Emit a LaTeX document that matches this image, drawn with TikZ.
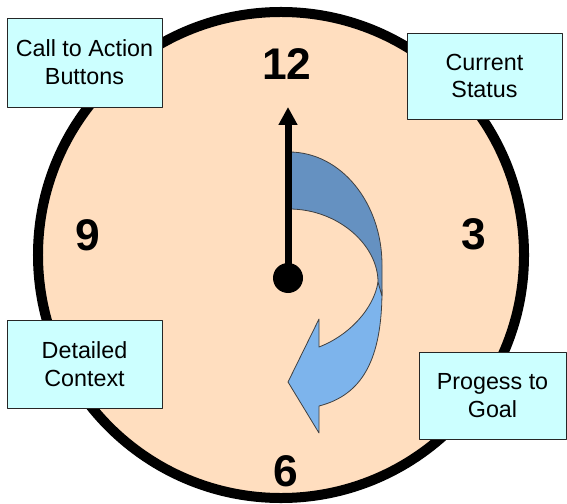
\documentclass[tikz,border=0pt]{standalone}
\usepackage{fontspec}
\setmainfont{Liberation Sans}
\usetikzlibrary{arrows.meta}
\definecolor{peach}{HTML}{FFDEBF}
\definecolor{boxcyan}{HTML}{CCFFFF}
\definecolor{bandback}{HTML}{6591C1}
\definecolor{bandfront}{HTML}{7DB4EC}

\begin{document}
\begin{tikzpicture}[x=1bp, y=-1bp, line join=round,
	infobox/.style={draw=black!85, line width=0.8bp, fill=boxcyan, inner sep=0pt, align=center, font=\fontsize{23.4}{28}\selectfont},
	hour/.style={inner sep=0pt, font=\fontsize{44.5}{44.5}\selectfont\bfseries},
	band/.style={draw=black!75, line width=0.8bp}]
	\useasboundingbox (0,0) rectangle (567,504);
	\def \r{243}
	\coordinate (O) at (281,255);
	\coordinate (P) at (288,278);
	\coordinate (T) at (288,107);
	% dial
	\draw[line width=10bp, fill=peach] (O) circle[radius=\r bp];
	\node[hour] (h12) at (287,64) {12};
	\node[hour] (h3) at (474,234) {3};
	\node[hour] (h6) at (286,471) {6};
	\node[hour] (h9) at (88,235) {9};
	% curved arrow, front then back face
	\draw[band, fill=bandfront] (378,282) -- (382,290) .. controls (382,360) and (362,395) .. (319,406)
		-- (319,433) -- (288,382) -- (319,319) -- (319,347) .. controls (350,335) and (374,308) .. (378,282) -- cycle;
	\draw[band, fill=bandback] (289,152) .. controls (341,152) and (382,203) .. (382,265) -- (382,296)
		-- (378,282) .. controls (378,245) and (338,209) .. (289,209) -- cycle;
	% hand
	\draw[line width=7bp, -{Triangle[width=18bp,length=18bp]}] (P) -- (T);
	\fill (P) circle[radius=15bp];
	% labels
	\node[infobox, minimum width=155bp, minimum height=89bp] (cta) at (84.5,62.5) {Call to Action\\Buttons};
	\node[infobox, minimum width=155bp, minimum height=86bp] (status) at (484.5,76) {Current\\Status};
	\node[infobox, minimum width=155bp, minimum height=88bp] (context) at (84.5,364) {Detailed\\Context};
	\node[infobox, minimum width=147bp, minimum height=87bp] (goal) at (492.5,395.5) {Progess to\\Goal};
\end{tikzpicture}
\end{document}
